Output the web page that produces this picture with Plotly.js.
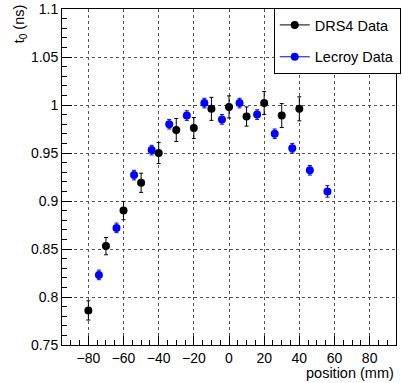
<!DOCTYPE html>
<html>
<head>
<meta charset="utf-8">
<script src="https://cdn.plot.ly/plotly-3.0.1.min.js"></script>
<style>html,body{margin:0;padding:0;background:#fff;}#chart{width:402px;height:383px;}</style>
</head>
<body>
<div id="chart"></div>
<script>
// DRS4 data
var drsX = [-80, -70, -60, -50, -40, -30, -20, -10, 0, 10, 20, 30, 40];
var drsY = [0.786, 0.853, 0.890, 0.919, 0.950, 0.974, 0.976, 0.996, 0.998, 0.988, 1.002, 0.989, 0.996];
var drsErr = [0.010, 0.009, 0.0095, 0.010, 0.011, 0.012, 0.011, 0.012, 0.0115, 0.010, 0.012, 0.0125, 0.0125];
// Lecroy data
var lecX = [-74, -64, -54, -44, -34, -24, -14, -4, 6, 16, 26, 36, 46, 56];
var lecY = [0.823, 0.872, 0.927, 0.953, 0.980, 0.989, 1.002, 0.985, 1.002, 0.990, 0.970, 0.955, 0.932, 0.910];
var lecErr = [0.005, 0.005, 0.005, 0.005, 0.005, 0.005, 0.005, 0.005, 0.005, 0.005, 0.005, 0.005, 0.005, 0.006];
// tick labels
var xTickVals = [-80, -60, -40, -20, 0, 20, 40, 60, 80];
var xTickText = ["\u221280", "\u221260", "\u221240", "\u221220", "0", "20", "40", "60", "80"];
var yTickVals = [0.75, 0.8, 0.85, 0.9, 0.95, 1, 1.05, 1.1];
var yTickText = ["0.75", "0.8", "0.85", "0.9", "0.95", "1", "1.05", "1.1"];
var names = ["DRS4 Data", "Lecroy Data"];

var font = {family: "Liberation Sans, Arial, sans-serif", size: 14.5, color: "#000"};
var tickFont = {family: "Liberation Sans, Arial, sans-serif", size: 14, color: "#000"};

var traces = [
  {x: drsX, y: drsY, type: "scatter", mode: "markers", showlegend: false,
   marker: {color: "#000", size: 8},
   error_y: {type: "data", array: drsErr, visible: true, color: "#000", thickness: 1, width: 2}},
  {x: lecX, y: lecY, type: "scatter", mode: "markers", showlegend: false,
   marker: {color: "#0000ff", size: 8},
   error_y: {type: "data", array: lecErr, visible: true, color: "#0000ff", thickness: 1, width: 2}},
  {x: [null], y: [null], type: "scatter", mode: "lines+markers", name: names[0], legendgroup: "a",
   marker: {color: "#000", size: 8}, line: {color: "#000", width: 1}},
  {x: [null], y: [null], type: "scatter", mode: "lines+markers", name: names[1], legendgroup: "b",
   marker: {color: "#0000ff", size: 8}, line: {color: "#0000ff", width: 1}}
];

var axisCommon = {
  showline: true, mirror: true, linecolor: "#000", linewidth: 1,
  ticks: "inside", tickcolor: "#000", tickwidth: 1,
  showgrid: true, gridcolor: "#555", griddash: "dot", gridwidth: 1,
  zeroline: false, tickfont: tickFont, tickmode: "array"
};

var layout = {
  width: 402, height: 383,
  margin: {l: 62, r: 1, t: 9, b: 38},
  paper_bgcolor: "#fff", plot_bgcolor: "#fff",
  font: font,
  showlegend: true,
  legend: {x: 0.634, y: 1.003, xanchor: "left", yanchor: "top",
           bgcolor: "#fff", bordercolor: "#000", borderwidth: 1,
           traceorder: "grouped", tracegroupgap: 10, font: font},
  xaxis: Object.assign({}, axisCommon, {
    range: [-95, 95], tickvals: xTickVals, ticktext: xTickText, ticklen: 9,
    ticklabelstandoff: 0,
    minor: {tick0: -95, dtick: 5, ticks: "inside", ticklen: 5, tickcolor: "#000", showgrid: false}
  }),
  yaxis: Object.assign({}, axisCommon, {
    range: [0.75, 1.1], tickvals: yTickVals, ticktext: yTickText, ticklen: 10,
    minor: {tick0: 0.75, dtick: 0.01, ticks: "inside", ticklen: 5, tickcolor: "#000", showgrid: false}
  }),
  annotations: [
    {text: "position (mm)", xref: "paper", yref: "paper", x: 1, y: -0.083,
     xanchor: "right", yanchor: "middle", showarrow: false, font: font},
    {text: "t<sub>0</sub> (ns)", xref: "paper", yref: "paper", x: -0.127, y: 1.02,
     xanchor: "center", yanchor: "top", textangle: -90, showarrow: false, font: font}
  ]
};

Plotly.newPlot("chart", traces, layout, {displayModeBar: false, staticPlot: true});
</script>
</body>
</html>
